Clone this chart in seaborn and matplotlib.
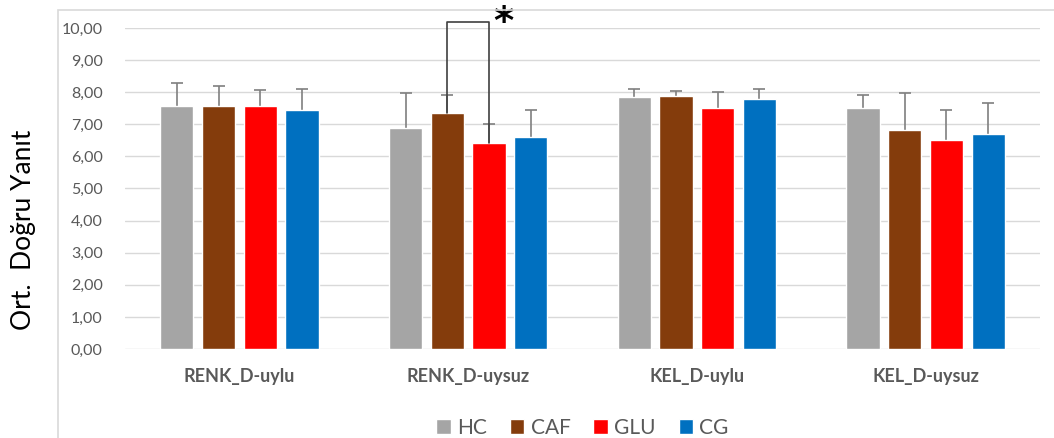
import matplotlib
matplotlib.use("Agg")
import matplotlib.pyplot as plt
import seaborn as sns
import pandas as pd
from matplotlib.patches import Rectangle

categories = ["RENK_D-uylu", "RENK_D-uysuz", "KEL_D-uylu", "KEL_D-uysuz"]
groups = ["HC", "CAF", "GLU", "CG"]
colors = ["#A5A5A5", "#843C0C", "#FF0000", "#0070C0"]

# mean values per group, in category order
hc = [7.57, 6.88, 7.85, 7.50]
caf = [7.58, 7.35, 7.88, 6.82]
glu = [7.57, 6.42, 7.50, 6.51]
cg = [7.46, 6.60, 7.78, 6.69]

# error bar (sd)
hc_err = [0.71, 1.09, 0.25, 0.42]
caf_err = [0.60, 0.56, 0.16, 1.15]
glu_err = [0.49, 0.58, 0.50, 0.94]
cg_err = [0.64, 0.85, 0.32, 0.96]

yticks = [0, 1, 2, 3, 4, 5, 6, 7, 8, 9, 10]

means = {"HC": hc, "CAF": caf, "GLU": glu, "CG": cg}
errs = {"HC": hc_err, "CAF": caf_err, "GLU": glu_err, "CG": cg_err}

rows = []
for g in groups:
    for c, v in zip(categories, means[g]):
        rows.append({"cat": c, "group": g, "value": v})
df = pd.DataFrame(rows)

sns.set_style("white")
plt.rcParams["font.family"] = ["Lato", "DejaVu Sans"]

fig = plt.figure(figsize=(10.54, 4.38), dpi=100)
ax = fig.add_axes([0.1186, 0.2032, 0.8681, 0.7329])

# outer chart frame
fig.patches.append(Rectangle((58 / 1054, -0.05), 1.0, 1 - 10 / 438 + 0.05,
                             transform=fig.transFigure, fill=False,
                             edgecolor="#D9D9D9", lw=1.2, zorder=0))

sns.barplot(data=df, x="cat", y="value", hue="group", order=categories,
            hue_order=groups, palette=colors, saturation=1, width=0.73,
            gap=0.2, errorbar=None, ax=ax, zorder=3)

# error bars, lower half hidden behind the bars
centers = {}
for g, cont in zip(groups, ax.containers):
    xs = [p.get_x() + p.get_width() / 2 for p in cont]
    centers[g] = xs
    ax.errorbar(xs, means[g], yerr=errs[g], fmt="none",
                ecolor="#7F7F7F", elinewidth=1.2, capsize=4, capthick=1.2,
                zorder=2.5)

# significance bracket between CAF and GLU in RENK_D-uysuz
x1 = centers["CAF"][1]
x2 = centers["GLU"][1]
top = 10.19
ax.plot([x1, x1, x2, x2], [caf[1], top, top, glu[1]], color="#404040",
        lw=1.2, clip_on=False, zorder=5)
ax.text(x2 + 0.02, top - 0.05, "*", fontsize=28, fontweight="bold",
        family="DejaVu Sans", ha="left", va="center", color="black",
        clip_on=False)

ax.set_ylim(0, 10)
ax.set_xlim(-0.5, 3.5)
ax.set_yticks(yticks)
ax.set_yticklabels([f"{t:.2f}".replace(".", ",") for t in yticks],
                   fontsize=11.5, color="#595959")
ax.yaxis.grid(True, color="#D9D9D9", lw=1)
ax.set_axisbelow(True)
for s in ax.spines.values():
    s.set_visible(False)
ax.tick_params(axis="both", length=0)
ax.tick_params(axis="y", pad=16)
ax.tick_params(axis="x", pad=14)
for lab in ax.get_xticklabels():
    lab.set_fontweight("bold")
    lab.set_fontsize(13)
    lab.set_color("#595959")
ax.set_xlabel("")
ax.set_ylabel("")
fig.text(0.022, 0.475, "Ort.  Doğru Yanıt", rotation=90, fontsize=19,
         ha="center", va="center", color="black")

handles, labels = ax.get_legend_handles_labels()
ax.legend(handles, labels, loc="center", bbox_to_anchor=(0.5, -0.245),
          ncol=4, frameon=False, fontsize=15, handlelength=0.7,
          handleheight=0.7, handletextpad=0.3, columnspacing=1.1,
          labelcolor="#595959")

fig.savefig("out.png", dpi=100)
